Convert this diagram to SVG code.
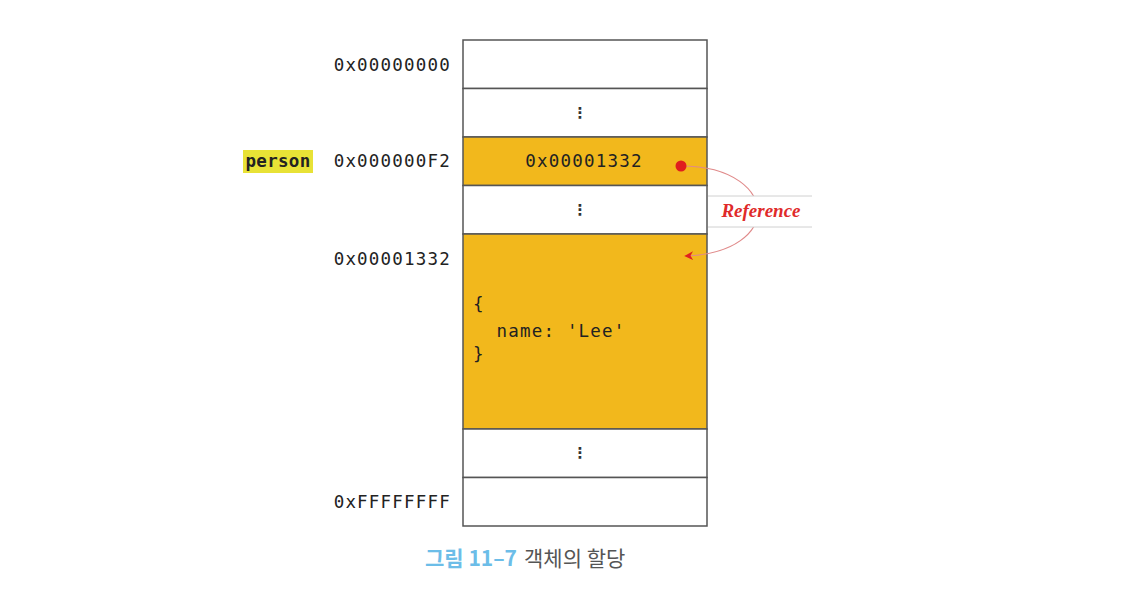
<svg xmlns="http://www.w3.org/2000/svg" width="1128" height="589" viewBox="0 0 1128 589">
<style>
.mono{font-family:"DejaVu Sans Mono","Liberation Mono",monospace;font-size:17.5px;fill:#222;letter-spacing:1.2px}
.cell{stroke:#555;stroke-width:1.5}
.w{fill:#fff}
.y{fill:#f2b81c}
.dots{font-family:"DejaVu Sans",sans-serif;font-size:15px;font-weight:bold;fill:#333;text-anchor:middle}
</style>
<defs>
<marker id="ah" viewBox="0 0 10 10" refX="8" refY="5" markerWidth="9" markerHeight="9" orient="auto-start-reverse" markerUnits="userSpaceOnUse">
<path d="M0,0 L10,5 L0,10 L3,5 Z" fill="#e02020"/>
</marker>
</defs>
<rect width="1128" height="589" fill="#fff"/>
<g id="memory">
<g id="row0"><rect class="cell w" x="463" y="40" width="244" height="48.5"/></g>
<g id="row1"><rect class="cell w" x="463" y="88.5" width="244" height="48.5"/><text class="dots" x="580" y="118">⋮</text></g>
<g id="row2"><rect class="cell y" x="463" y="137" width="244" height="48.5"/><text class="mono" x="584" y="167" text-anchor="middle">0x00001332</text></g>
<g id="row3"><rect class="cell w" x="463" y="185.5" width="244" height="48.5"/><text class="dots" x="580" y="215">⋮</text></g>
<g id="row4"><rect class="cell y" x="463" y="234" width="244" height="195"/>
<text class="mono" x="473" y="310">{</text>
<text class="mono" x="473" y="337" xml:space="preserve">  name: 'Lee'</text>
<text class="mono" x="473" y="360">}</text></g>
<g id="row5"><rect class="cell w" x="463" y="429" width="244" height="48.5"/><text class="dots" x="580" y="458">⋮</text></g>
<g id="row6"><rect class="cell w" x="463" y="477.5" width="244" height="48.5"/></g>
</g>
<g id="addresses">
<text class="mono" x="451" y="71" text-anchor="end">0x00000000</text>
<text class="mono" x="451" y="167" text-anchor="end">0x000000F2</text>
<text class="mono" x="451" y="265" text-anchor="end">0x00001332</text>
<text class="mono" x="451" y="508" text-anchor="end">0xFFFFFFFF</text>
</g>
<g id="person">
<rect x="243" y="150" width="70" height="23" fill="#e8e236"/>
<text class="mono" x="278" y="167" text-anchor="middle" font-weight="bold" style="letter-spacing:0.3px">person</text>
</g>
<g id="connectors">
<path d="M681,166 C735,166 758,192 758,211 C758,232 735,254 686,256" fill="none" stroke="#e08a8a" stroke-width="1.2" marker-end="url(#ah)"/>
<circle cx="681" cy="166" r="5.5" fill="#e01e1e"/>
</g>
<g id="reference-label">
<rect x="708" y="196" width="104" height="31" fill="#fff"/>
<line x1="708" y1="196" x2="812" y2="196" stroke="#d0d0d0" stroke-width="1"/>
<line x1="708" y1="227" x2="812" y2="227" stroke="#d0d0d0" stroke-width="1"/>
<text x="761" y="217" text-anchor="middle" font-family="'Liberation Serif',serif" font-style="italic" font-weight="bold" font-size="19" fill="#e02a2a">Reference</text>
</g>
<g id="caption">
<text x="425" y="566" font-family="'Noto Sans CJK KR',sans-serif" font-size="21"><tspan font-weight="bold" fill="#6cbde8">그림 11–7</tspan><tspan fill="#555" dx="7">객체의 할당</tspan></text>
</g>
</svg>
